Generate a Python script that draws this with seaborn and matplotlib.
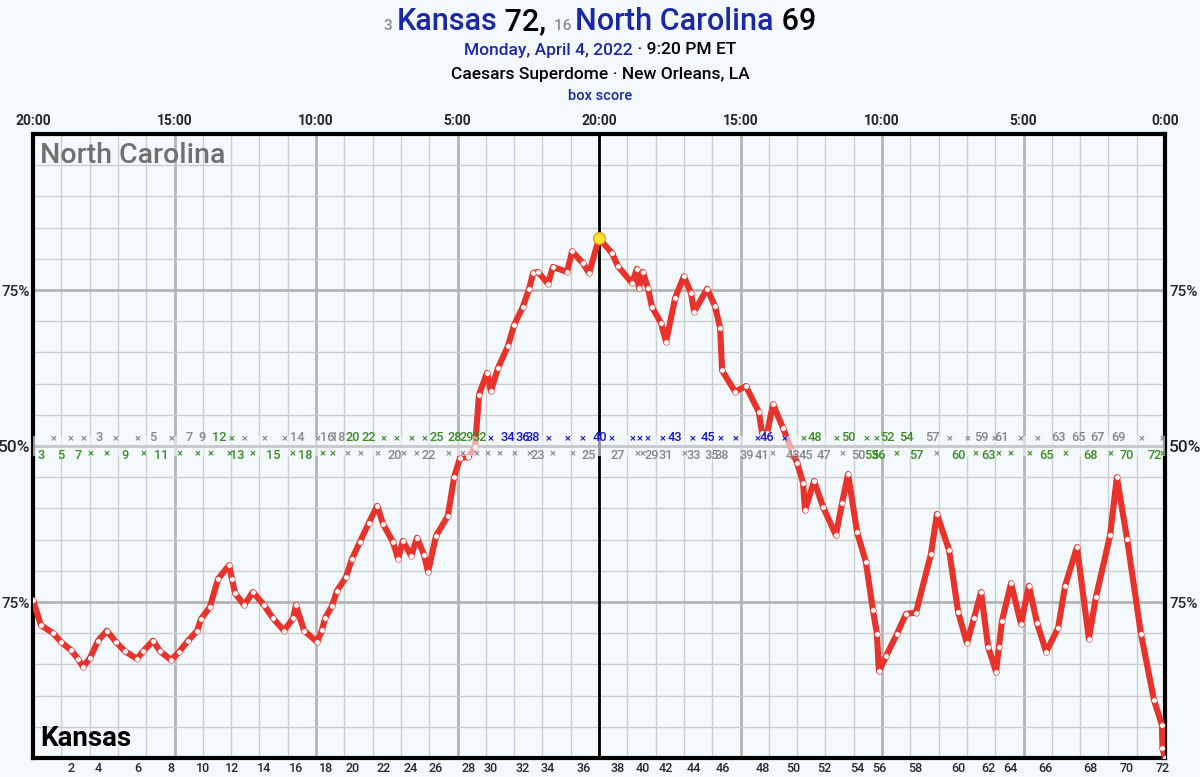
import matplotlib
matplotlib.use("Agg")
import matplotlib.pyplot as plt
import seaborn as sns
import pandas as pd
from matplotlib.offsetbox import TextArea, HPacker, AnchoredOffsetbox

# win probability for North Carolina (%) against minutes played
minutes = [0.00, 0.28, 0.71, 0.99, 1.34, 1.59, 1.77, 2.01, 2.30, 2.61, 2.93, 3.25, 3.67, 3.89,
           4.24, 4.49, 4.88, 5.16, 5.48, 5.80, 5.94, 6.25, 6.54, 6.93, 7.03, 7.14, 7.46, 7.77,
           8.16, 8.48, 8.87, 9.19, 9.29, 9.58, 10.04, 10.21, 10.32, 10.57, 10.74, 11.06, 11.27,
           11.55, 11.87, 12.16, 12.37, 12.72, 12.90, 13.07, 13.36, 13.57, 13.82, 13.96, 14.24,
           14.66, 14.88, 15.09, 15.37, 15.62, 15.76, 16.04, 16.18, 16.43, 16.78, 17.00, 17.31,
           17.53, 17.67, 17.84, 18.20, 18.37, 18.87, 19.05, 19.43, 19.65, 20.00, 20.46, 20.67,
           21.17, 21.34, 21.41, 21.55, 21.73, 21.87, 22.19, 22.37, 22.69, 23.00, 23.25, 23.36,
           23.82, 24.10, 24.28, 24.35, 24.81, 25.19, 25.65, 25.76, 25.94, 26.15, 26.50, 26.82,
           27.00, 27.21, 27.28, 27.60, 27.92, 28.37, 28.59, 28.80, 29.12, 29.43, 29.68, 29.82,
           29.89, 30.14, 30.53, 30.85, 31.20, 31.73, 31.94, 32.37, 32.69, 33.00, 33.25, 33.50,
           33.75, 34.03, 34.13, 34.24, 34.56, 34.91, 35.19, 35.48, 35.80, 36.22, 36.47, 36.89,
           37.31, 37.56, 38.06, 38.30, 38.66, 39.15, 39.61, 39.89, 39.91, 40.00]
unc_prob = [25.3, 21.3, 20.0, 18.6, 17.3, 15.9, 14.6, 16.0, 18.8, 20.4, 18.6, 17.1, 15.9, 17.1,
            18.8, 17.1, 15.7, 17.0, 18.8, 20.4, 22.3, 24.2, 28.7, 30.9, 28.7, 26.4, 24.5, 26.6,
            24.5, 22.4, 20.4, 22.4, 24.5, 20.4, 18.6, 20.5, 22.4, 24.4, 26.8, 29.0, 31.9,
            34.6, 37.7, 40.4, 37.5, 34.6, 31.9, 34.8, 32.4, 35.3, 32.5, 29.8, 35.6,
            38.8, 45.0, 48.1, 48.2, 49.8, 58.2, 61.7, 58.8, 62.5, 66.0, 69.4, 72.3,
            75.2, 77.7, 77.9, 76.0, 78.7, 77.9, 81.2, 79.3, 77.7, 83.3, 80.9, 78.8,
            76.1, 78.4, 75.3, 77.9, 75.3, 72.3, 69.7, 66.7, 73.7, 77.2, 74.5, 71.5,
            75.2, 72.4, 68.9, 62.1, 58.7, 59.6, 55.4, 52.1, 52.1, 56.7, 52.9, 49.2,
            47.3, 44.1, 39.7, 44.4, 40.2, 35.7, 40.9, 45.5, 36.2, 31.4, 23.7, 19.9,
            13.9, 16.3, 19.9, 23.1, 23.3, 32.7, 39.1, 33.3, 23.4, 18.4, 22.4, 26.6,
            17.8, 13.8, 17.8, 22.0, 28.0, 21.5, 27.6, 21.6, 17.0, 20.8, 27.6, 33.8,
            19.1, 25.8, 35.7, 45.0, 35.1, 19.9, 9.3, 5.3, 1.6, 0.0]

halftime_min = 20.0
halftime_prob = 83.3

clock_ticks = [0, 5, 10, 15, 20, 25, 30, 35, 40]
clock_labels = ["20:00", "15:00", "10:00", "5:00", "20:00", "15:00", "10:00", "5:00", "0:00"]

bottom_ticks = [1.36, 2.32, 3.70, 4.88, 6.00, 7.03, 8.16, 9.31, 10.35, 11.30, 12.40, 13.36,
                14.24, 15.41, 16.18, 17.31, 18.20, 19.46, 20.67, 21.55, 22.37, 23.36, 24.37,
                25.78, 26.86, 27.95, 29.14, 29.89, 31.19, 32.71, 33.75, 34.54, 35.78, 37.35,
                38.66, 39.93]
bottom_labels = [str(v) for v in range(2, 73, 2)]

# scoring / miss strip: North Carolina above the 50% line
unc_ev_min = [0.74, 1.34, 1.80, 2.33, 2.93, 3.71, 4.24, 4.88, 5.51, 5.97, 6.57, 7.03, 7.49, 8.20,
              8.90, 9.33, 10.04, 10.39, 10.78, 11.31, 11.87, 12.40, 12.86, 13.39, 13.85, 14.28,
              14.91, 15.34, 15.80, 16.18, 16.78, 17.31, 17.67, 18.23, 18.90, 19.43, 20.04, 20.46,
              21.17, 21.45, 21.73, 22.23, 22.69, 23.29, 23.85, 24.28, 24.84, 25.62, 25.94, 26.54,
              27.24, 27.63, 28.41, 28.80, 29.47, 29.82, 30.18, 30.85, 31.77, 32.40, 33.04, 33.50,
              33.99, 34.24, 34.91, 35.48, 36.25, 36.93, 37.60, 38.34, 39.19, 39.93]
unc_ev_txt = ["×", "×", "×", "3", "×", "×", "5", "×", "7", "9", "12", "×", "×", "×",
              "×", "14", "×", "16", "18", "20", "22", "×", "×", "×", "×", "25",
              "28", "29", "32", "×", "34", "36", "38", "×", "×", "×", "40", "×",
              "×", "×", "×", "×", "43", "×", "45", "×", "×", "×", "46", "×",
              "×", "48", "×", "50", "×", "×", "52", "54", "57", "×", "×", "59",
              "×", "61", "×", "×", "63", "65", "67", "69", "×", "×"]
unc_ev_col = ["k"] * 10 + ["g", "g"] + ["k"] * 7 + ["g"] * 10 + ["b"] * 21 + ["g"] * 8 + \
             ["k"] * 17 + ["g", "k", "k"]

# Kansas below the 50% line
ku_ev_min = [0.28, 0.99, 1.59, 2.05, 2.61, 3.25, 3.89, 4.52, 5.19, 5.80, 6.29, 6.93, 7.21, 7.77,
             8.48, 9.19, 9.61, 10.25, 10.57, 11.10, 11.59, 12.19, 12.79, 13.11, 13.57, 13.99,
             14.70, 15.19, 15.69, 16.08, 16.47, 17.00, 17.56, 17.84, 18.37, 19.08, 19.65, 20.67,
             21.38, 21.55, 21.87, 22.37, 23.04, 23.36, 23.99, 24.35, 25.23, 25.76, 26.15, 26.86,
             27.31, 27.95, 28.62, 29.15, 29.61, 29.86, 30.53, 31.20, 31.94, 32.69, 33.32, 33.75,
             34.13, 34.56, 35.23, 35.80, 36.50, 37.35, 38.09, 38.66, 39.65, 39.93]
ku_ev_txt = ["3", "5", "7", "×", "×", "9", "×", "11", "×", "×", "×", "×", "13", "×",
             "15", "×", "18", "×", "×", "×", "×", "×", "20", "×", "×", "22",
             "×", "×", "×", "×", "×", "×", "×", "23", "×", "×", "25", "27",
             "×", "×", "29", "31", "×", "33", "35", "38", "39", "41", "×", "43",
             "45", "47", "×", "50", "53", "56", "×", "57", "×", "60", "×", "63",
             "×", "×", "×", "65", "×", "68", "×", "70", "72", "×"]
ku_ev_col = ["g"] * 19 + ["k"] * 35 + ["g"] * 4 + ["k"] + ["g"] * 13

strip_colors = {"k": "#858585", "g": "#3b8c22", "b": "#1414d8"}

df = pd.DataFrame({"minute": minutes, "unc": unc_prob})

bg = "#f3f9fd"
sns.set_theme(style="white")
plt.rcParams["font.family"] = ["Roboto", "DejaVu Sans"]

fig = plt.figure(figsize=(12, 7.77), dpi=100, facecolor=bg)
ax = fig.add_axes([33 / 1200, 1 - 758 / 777, 1132 / 1200, 624 / 777])
ax.set_facecolor(bg)
ax.set_xlim(0, 40)
ax.set_ylim(0, 100)

# grid
for m in range(1, 40):
    heavy = m % 5 == 0
    ax.axvline(m, color="#b4b4b4" if heavy else "#cdcdcd", lw=2 if heavy else 1, zorder=0.5)
for p in range(5, 100, 5):
    heavy = p % 25 == 0
    ax.axhline(p, color="#b4b4b4" if heavy else "#cdcdcd", lw=2 if heavy else 1, zorder=0.5)
ax.axhline(50, color="#888888", lw=2.2, zorder=1)
ax.axvline(halftime_min, color="black", lw=2, zorder=1.2)

sns.lineplot(data=df, x="minute", y="unc", ax=ax, color="#e8322a", lw=4.4,
             estimator=None, sort=False, zorder=3, solid_joinstyle="round",
             solid_capstyle="round")
sns.scatterplot(data=df, x="minute", y="unc", ax=ax, color="white", s=16,
                edgecolor="#e8322a", linewidth=0.4, zorder=3.5)

# translucent band under the strip text
ax.axhspan(48.4, 51.6, color=bg, alpha=0.6, lw=0, zorder=4)

for m, t, c in zip(unc_ev_min, unc_ev_txt, unc_ev_col):
    ax.text(m, 50.35, t, color=strip_colors[c], ha="center", va="bottom",
            fontsize=8 if t == "×" else 9.2, fontweight="medium", zorder=5)
for m, t, c in zip(ku_ev_min, ku_ev_txt, ku_ev_col):
    ax.text(m, 49.55, t, color=strip_colors[c], ha="center", va="top",
            fontsize=8 if t == "×" else 9.2, fontweight="medium", zorder=5)

ax.scatter([halftime_min], [halftime_prob], s=70, color="#ffe62e",
           edgecolor="#e8a020", linewidth=1, zorder=6)

# frame
for side in ax.spines.values():
    side.set_visible(True)
    side.set_color("black")
    side.set_linewidth(3)

ax.set_xticks(bottom_ticks)
ax.set_xticklabels(bottom_labels, fontsize=9, fontweight="medium")
ax.tick_params(axis="x", length=0, pad=3)
ax.set_yticks([25, 50, 75])
ax.set_yticklabels(["75%", "50%", "75%"], fontweight="medium")
ax.tick_params(axis="y", length=0, pad=2, labelsize=11)
ax.get_yticklabels()[1].set_fontsize(12.5)
ax.set_xlabel("")
ax.set_ylabel("")

top = ax.secondary_xaxis("top")
top.set_xticks(clock_ticks)
top.set_xticklabels(clock_labels, fontsize=10, fontweight="bold")
top.tick_params(length=0, pad=4)

right = ax.secondary_yaxis("right")
right.set_yticks([25, 50, 75])
right.set_yticklabels(["75%", "50%", "75%"], fontweight="medium")
right.tick_params(length=0, pad=3, labelsize=11)
right.get_yticklabels()[1].set_fontsize(12.5)
right.spines["right"].set_visible(False)

ax.text(0.006, 0.987, "North Carolina", transform=ax.transAxes, ha="left", va="top",
        fontsize=20.5, color="#707070", fontweight="medium")
ax.text(0.006, 0.01, "Kansas", transform=ax.transAxes, ha="left", va="bottom",
        fontsize=20, color="black", fontweight="bold")

# header lines
blue = "#1a28a8"


def header(parts, y):
    boxes = [TextArea(s, textprops=dict(color=c, size=z, fontweight="medium"))
             for s, c, z in parts]
    pack = HPacker(children=boxes, align="baseline", pad=0, sep=0)
    box = AnchoredOffsetbox(loc="center", child=pack, frameon=False, pad=0, borderpad=0,
                            bbox_to_anchor=(0.5, 1 - y / 777), bbox_transform=fig.transFigure)
    fig.add_artist(box)


header([("3 ", "#8c8c8c", 11), ("Kansas", blue, 22), (" 72, ", "black", 22),
        ("16 ", "#8c8c8c", 11), ("North Carolina", blue, 22), (" 69", "black", 22)], 22)
header([("Monday, April 4, 2022", blue, 12.5), (" · 9:20 PM ET", "black", 12.5)], 50)
header([("Caesars Superdome · New Orleans, LA", "black", 12.5)], 74)
header([("box score", blue, 10.5)], 96)

fig.savefig("out.png", dpi=100, facecolor=bg)
